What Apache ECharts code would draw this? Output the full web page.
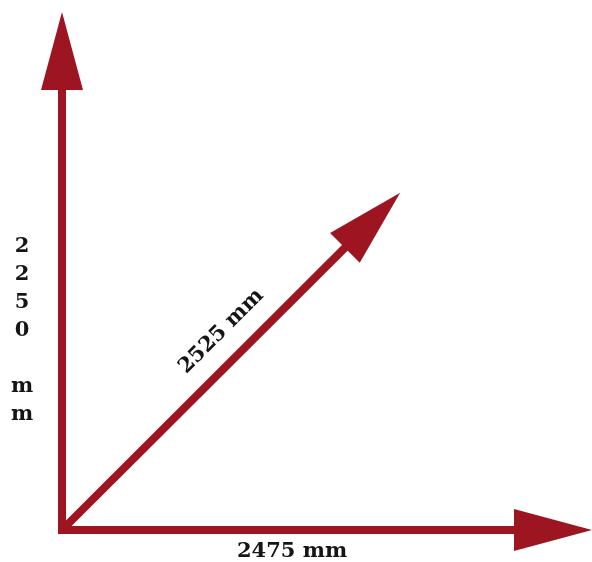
<!DOCTYPE html>
<html>
<head>
<meta charset="utf-8">
<script src="https://cdn.jsdelivr.net/npm/echarts@6/dist/echarts.min.js"></script>
<style>
  html, body { margin: 0; padding: 0; background: #fff; }
  #chart { width: 592px; height: 562px; }
</style>
</head>
<body>
<div id="chart"></div>
<script>
// arrows drawn from the origin, in plot units (0..100 on both axes)
var arrowLabels = ['2475 mm', '2250 mm', '2525 mm'];
var arrowStartX = [0, 0, 0];
var arrowStartY = [0, 0, 0];
var arrowEndX = [100, 0, 63.8];
var arrowEndY = [0, 100, 65.1];

var RED = '#9c1520';
// label placement along each arrow (fraction) and its side offset in px
var labelStyle = [
  { at: 0.434, gap: -22, stacked: false, cap: 'square' },
  { at: 0.386, gap: 40, stacked: true, cap: 'square' },
  { at: 0.53, gap: 28, stacked: false, cap: 'butt' }
];

var myChart = echarts.init(document.getElementById('chart'));

var seriesData = arrowLabels.map(function (name, i) {
  return { name: name, value: [arrowStartX[i], arrowStartY[i], arrowEndX[i], arrowEndY[i]] };
});

function renderArrow(params, api) {
  var i = params.dataIndex;
  var p0 = api.coord([api.value(0), api.value(1)]);
  var p1 = api.coord([api.value(2), api.value(3)]);
  var dx = p1[0] - p0[0], dy = p1[1] - p0[1];
  var len = Math.sqrt(dx * dx + dy * dy);
  var ux = dx / len, uy = dy / len;
  var nx = uy, ny = -ux;           // normal, to the left of the arrow
  var headLen = 78, headW = 42;
  var bx = p1[0] - ux * headLen, by = p1[1] - uy * headLen;

  var ls = labelStyle[i];
  var lx = p0[0] + ux * len * ls.at + nx * ls.gap;
  var ly = p0[1] + uy * len * ls.at + ny * ls.gap;
  var txt = ls.stacked ? arrowLabels[i].split('').join('\n') : arrowLabels[i];

  return {
    type: 'group',
    children: [
      {
        type: 'line',
        shape: { x1: p0[0], y1: p0[1], x2: bx + ux * 2, y2: by + uy * 2 },
        style: { stroke: RED, lineWidth: 8, lineCap: ls.cap }
      },
      {
        type: 'polygon',
        shape: { points: [
          [p1[0], p1[1]],
          [bx + nx * headW / 2, by + ny * headW / 2],
          [bx - nx * headW / 2, by - ny * headW / 2]
        ] },
        style: { fill: RED }
      },
      {
        type: 'text',
        x: lx,
        y: ly,
        rotation: ls.stacked ? 0 : -Math.atan2(dy, dx),
        style: {
          text: txt,
          fill: '#151515',
          font: 'bold 21px "DejaVu Serif", serif',
          align: 'center',
          verticalAlign: 'middle',
          lineHeight: 28
        }
      }
    ]
  };
}

var option = {
  animation: false,
  grid: { left: 62, right: 0, top: 12, bottom: 32 },
  xAxis: { type: 'value', min: 0, max: 100, show: false },
  yAxis: { type: 'value', min: 0, max: 100, show: false },
  series: [{
    type: 'custom',
    renderItem: renderArrow,
    encode: { x: [0, 2], y: [1, 3] },
    data: seriesData
  }]
};

myChart.setOption(option);
</script>
</body>
</html>
